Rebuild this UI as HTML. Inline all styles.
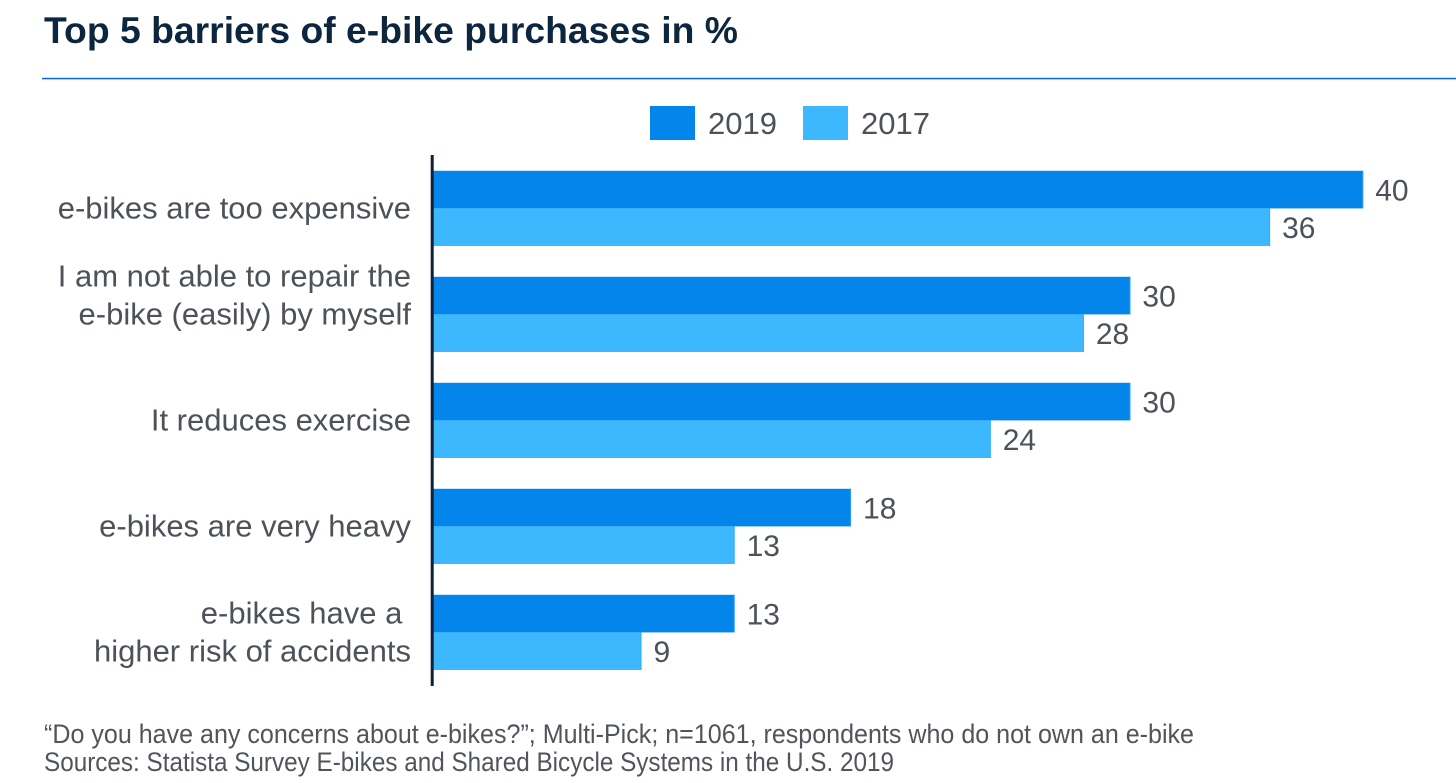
<!DOCTYPE html>
<html lang="en">
<head>
<meta charset="utf-8">
<title>Top 5 barriers of e-bike purchases in %</title>
<style>
html,body{margin:0;padding:0;background:#fff;width:1456px;height:783px;overflow:hidden}
svg{display:block}
text{font-family:"Liberation Sans",sans-serif}
</style>
</head>
<body>
<svg id="chart" width="1456" height="783" viewBox="0 0 1456 783" xmlns="http://www.w3.org/2000/svg">
  <text x="44" y="43" font-size="37" font-weight="700" fill="#0d2640" textLength="694" lengthAdjust="spacingAndGlyphs">Top 5 barriers of e-bike purchases in %</text>
  <rect x="42" y="77.8" width="1414" height="1.5" fill="#0a66e0"/>
  <g id="legend"></g>
  <g id="bars"></g>
  <g id="cats"></g>
  <rect x="430.7" y="155" width="3" height="531" fill="#0b2238"/>
  <text x="44" y="743" font-size="26.5" fill="#50555b" textLength="1150" lengthAdjust="spacingAndGlyphs">“Do you have any concerns about e-bikes?”; Multi-Pick; n=1061, respondents who do not own an e-bike</text>
  <text x="44" y="771" font-size="26.5" fill="#50555b" textLength="850" lengthAdjust="spacingAndGlyphs">Sources: Statista Survey E-bikes and Shared Bicycle Systems in the U.S. 2019</text>
</svg>
<script>
const categories = [
  ["e-bikes are too expensive"],
  ["I am not able to repair the", "e-bike (easily) by myself"],
  ["It reduces exercise"],
  ["e-bikes are very heavy"],
  ["e-bikes have a ", "higher risk of accidents"]
];
const seriesNames = ["2019", "2017"];
const values2019 = [40, 30, 30, 18, 13];
const values2017 = [36, 28, 24, 13, 9];

const NS = "http://www.w3.org/2000/svg";
const x0 = 432, unit = 23.28;
const groupTop = 170.8, groupStep = 106, barH = 37.6;
const raisedCategory = 1, raiseBy = 19;
const xScale = v => x0 + v * unit;
const yScale = (i, s) => groupTop + i * groupStep + s * barH;
const fills = ["#0385eb", "#3db8ff"];
const strokes = ["#2b9cf2", "#2aaefc"];
const labelFill = "#4c5258";

function make(tag, attrs, parent, text) {
  const el = document.createElementNS(NS, tag);
  for (const k in attrs) el.setAttribute(k, attrs[k]);
  if (text !== undefined) el.textContent = text;
  parent.appendChild(el);
  return el;
}

const barsG = document.getElementById("bars");
const catsG = document.getElementById("cats");
const legendG = document.getElementById("legend");

[values2019, values2017].forEach((vals, s) => {
  vals.forEach((v, i) => {
    const y = yScale(i, s);
    const r = make("rect", {x: x0, y: y, width: xScale(v) - x0, height: barH, fill: fills[s]}, barsG);
    
    
    const edge = make("rect", {x: xScale(v) - 1, y: y, width: 1, height: barH, fill: strokes[s]}, barsG);
    
    
    const t = make("text", {x: xScale(v) + 12, y: y + barH / 2 + 11, "font-size": 30, fill: labelFill}, barsG, String(v));
    
    
  });
});

categories.forEach((lines, i) => {
  const cy = groupTop + i * groupStep + barH - (i === raisedCategory ? raiseBy : 0);
  lines.forEach((line, j) => {
    const base = cy + 10 + (j - (lines.length - 1) / 2) * 38;
    const t = make("text", {x: 411, y: base, "font-size": 31, "text-anchor": "end", fill: labelFill, style: "white-space:pre"}, catsG, line);
    
    
  });
});

seriesNames.forEach((name, s) => {
  const lx = 650 + s * 153;
  const sw = make("rect", {x: lx, y: 106, width: 45, height: 34, fill: fills[s]}, legendG);
  
  
  const t = make("text", {x: lx + 58, y: 134, "font-size": 31, fill: labelFill}, legendG, name);
  
  
});
</script>
</body>
</html>
